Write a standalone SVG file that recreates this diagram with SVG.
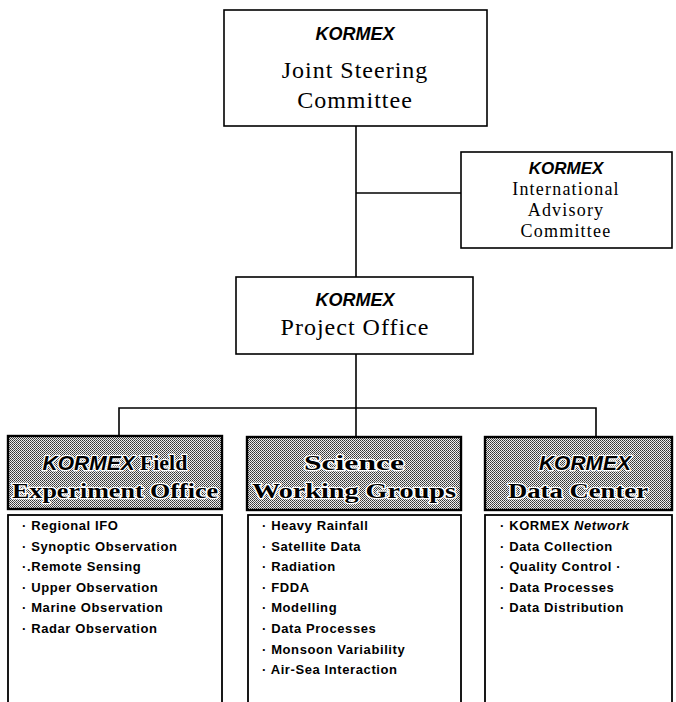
<svg xmlns="http://www.w3.org/2000/svg" width="676" height="702" viewBox="0 0 676 702">
<style>
.box{fill:#fff;stroke:#000;stroke-width:1.6}
.hdr{fill:url(#ht);stroke:#000;stroke-width:2.4}
.lst{fill:#fff;stroke:#000;stroke-width:1.8}
.k{font-family:"Liberation Sans",Arial,sans-serif;font-weight:bold;font-style:italic;text-anchor:middle;fill:#000}
.s{font-family:"Liberation Serif","Times New Roman",serif;text-anchor:middle;fill:#000}
.h{font-family:"Liberation Serif","Times New Roman",serif;font-weight:bold;font-size:22px;text-anchor:middle;fill:#000;stroke:#fff;stroke-width:2.5;paint-order:stroke;stroke-linejoin:round}
.hk{font-family:"Liberation Sans",Arial,sans-serif;font-weight:bold;font-style:italic;font-size:21px;fill:#000;stroke:#fff;stroke-width:2.5;paint-order:stroke;stroke-linejoin:round}
.li{font-family:"Liberation Sans",Arial,sans-serif;font-weight:bold;font-size:13px;letter-spacing:0.6px;fill:#000}
.c{fill:none;stroke:#000;stroke-width:1.6}
</style>
<defs>
<pattern id="ht" width="2" height="2" patternUnits="userSpaceOnUse">
<rect width="2" height="2" fill="#f0f0f0"/>
<rect x="0" y="0" width="1" height="1" fill="#333"/>
<rect x="1" y="1" width="1" height="1" fill="#555"/>
</pattern>
</defs>
<g id="connectors">
<line class="c" x1="356" y1="126" x2="356" y2="277"/>
<line class="c" x1="356" y1="193" x2="461" y2="193"/>
<line class="c" x1="356" y1="354" x2="356" y2="437"/>
<polyline class="c" points="119,436 119,408 596,408 596,437"/>
</g>
<g id="steering">
<rect class="box" x="224" y="10" width="263" height="116"/>
<text class="k" x="355" y="40" font-size="18">KORMEX</text>
<text class="s" x="355" y="78" font-size="24" letter-spacing="1">Joint Steering</text>
<text class="s" x="355" y="108" font-size="24" letter-spacing="1">Committee</text>
</g>
<g id="advisory">
<rect class="box" x="461" y="152" width="211" height="96"/>
<text class="k" x="566" y="174" font-size="17">KORMEX</text>
<text class="s" x="566" y="195" font-size="18" letter-spacing="1.2">International</text>
<text class="s" x="566" y="216" font-size="18" letter-spacing="1.2">Advisory</text>
<text class="s" x="566" y="237" font-size="18" letter-spacing="1.2">Committee</text>
</g>
<g id="project">
<rect class="box" x="236" y="277" width="237" height="77"/>
<text class="k" x="355" y="306" font-size="18">KORMEX</text>
<text class="s" x="355" y="335" font-size="24" letter-spacing="1">Project Office</text>
</g>
<g id="field">
<rect class="hdr" x="8" y="436" width="214" height="73"/>
<text x="115" y="470" text-anchor="middle"><tspan class="hk">KORMEX</tspan><tspan class="h" dx="5">Field</tspan></text>
<text class="h" x="115" y="498" textLength="206" lengthAdjust="spacingAndGlyphs">Experiment Office</text>
<rect class="lst" x="8" y="515" width="214" height="200"/>
<text class="li" x="22" y="530">· Regional  IFO</text>
<text class="li" x="22" y="551">· Synoptic  Observation</text>
<text class="li" x="22" y="571">·.Remote  Sensing</text>
<text class="li" x="22" y="592">· Upper  Observation</text>
<text class="li" x="22" y="612">· Marine  Observation</text>
<text class="li" x="22" y="633">· Radar  Observation</text>
</g>
<g id="science">
<rect class="hdr" x="247" y="437" width="214" height="73"/>
<text class="h" x="354" y="470" textLength="100" lengthAdjust="spacingAndGlyphs">Science</text>
<text class="h" x="354" y="498" textLength="204" lengthAdjust="spacingAndGlyphs">Working Groups</text>
<rect class="lst" x="248" y="515" width="213" height="200"/>
<text class="li" x="262" y="530">· Heavy  Rainfall</text>
<text class="li" x="262" y="551">· Satellite  Data</text>
<text class="li" x="262" y="571">· Radiation</text>
<text class="li" x="262" y="592">· FDDA</text>
<text class="li" x="262" y="612">· Modelling</text>
<text class="li" x="262" y="633">· Data  Processes</text>
<text class="li" x="262" y="654">· Monsoon  Variability</text>
<text class="li" x="262" y="674">· Air-Sea  Interaction</text>
</g>
<g id="datacenter">
<rect class="hdr" x="485" y="437" width="187" height="73"/>
<text class="hk" x="585" y="470" text-anchor="middle">KORMEX</text>
<text class="h" x="578" y="498" textLength="140" lengthAdjust="spacingAndGlyphs">Data Center</text>
<rect class="lst" x="485" y="515" width="187" height="200"/>
<text class="li" x="500" y="530">· KORMEX  <tspan font-style="italic">Network</tspan></text>
<text class="li" x="500" y="551">· Data  Collection</text>
<text class="li" x="500" y="571">· Quality  Control ·</text>
<text class="li" x="500" y="592">· Data  Processes</text>
<text class="li" x="500" y="612">· Data  Distribution</text>
</g>
</svg>
